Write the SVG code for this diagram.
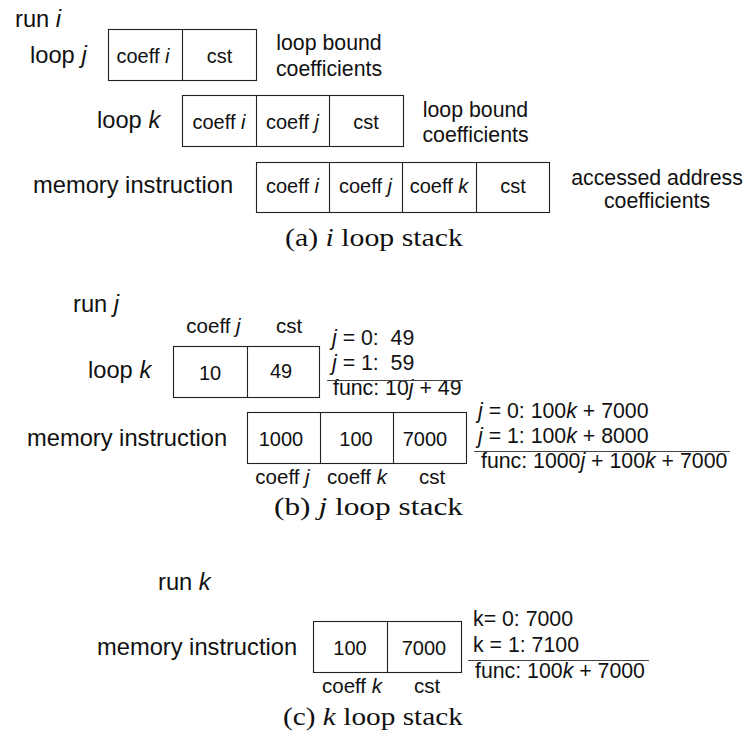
<svg xmlns="http://www.w3.org/2000/svg" width="743" height="735" viewBox="0 0 743 735">
<style>
.lbl{font-family:"Liberation Sans",Arial,sans-serif;font-size:23.7px;fill:#111}
.cell{font-family:"Liberation Sans",Arial,sans-serif;font-size:20px;fill:#111;text-anchor:middle}
.note{font-family:"Liberation Sans",Arial,sans-serif;font-size:21.3px;fill:#111}
.mid{text-anchor:middle}
.cap{font-family:"Liberation Serif","Times New Roman",serif;font-size:25px;fill:#111}
.box{fill:none;stroke:#222;stroke-width:1.1}
.rule{stroke:#444;stroke-width:1.1}
.it{font-style:italic}
</style>
<rect width="743" height="735" fill="#fff"/>

<!-- (a) -->
<g id="a-labels">
<text class="lbl" x="15" y="27">run <tspan class="it">i</tspan></text>
<text class="lbl" x="30" y="63">loop <tspan class="it">j</tspan></text>
<text class="lbl" x="97" y="128">loop <tspan class="it">k</tspan></text>
<text class="lbl" x="33" y="193">memory instruction</text>
</g>
<g id="a-loopj">
<rect class="box" x="108.5" y="29.5" width="148" height="51"/>
<line class="box" x1="182.5" y1="29.5" x2="182.5" y2="80.5"/>
<text class="cell" x="143" y="63">coeff <tspan class="it">i</tspan></text>
<text class="cell" x="219.5" y="63">cst</text>
<text class="note mid" x="329" y="50">loop bound</text>
<text class="note mid" x="329" y="76">coefficients</text>
</g>
<g id="a-loopk">
<rect class="box" x="182.5" y="95.5" width="221" height="51"/>
<line class="box" x1="256.5" y1="95.5" x2="256.5" y2="146.5"/>
<line class="box" x1="329.5" y1="95.5" x2="329.5" y2="146.5"/>
<text class="cell" x="219" y="129">coeff <tspan class="it">i</tspan></text>
<text class="cell" x="292.5" y="129">coeff <tspan class="it">j</tspan></text>
<text class="cell" x="366" y="129">cst</text>
<text class="note mid" x="475.5" y="117">loop bound</text>
<text class="note mid" x="475.5" y="142">coefficients</text>
</g>
<g id="a-mem">
<rect class="box" x="256.5" y="162.5" width="293" height="50"/>
<line class="box" x1="329.5" y1="162.5" x2="329.5" y2="212.5"/>
<line class="box" x1="402.5" y1="162.5" x2="402.5" y2="212.5"/>
<line class="box" x1="476.5" y1="162.5" x2="476.5" y2="212.5"/>
<text class="cell" x="292.5" y="193">coeff <tspan class="it">i</tspan></text>
<text class="cell" x="365.5" y="193">coeff <tspan class="it">j</tspan></text>
<text class="cell" x="439" y="193">coeff <tspan class="it">k</tspan></text>
<text class="cell" x="513" y="193">cst</text>
<text class="note mid" x="657" y="185">accessed address</text>
<text class="note mid" x="657" y="208">coefficients</text>
</g>
<text class="cap" x="285" y="246" textLength="178" lengthAdjust="spacingAndGlyphs">(a) <tspan class="it">i</tspan> loop stack</text>

<!-- (b) -->
<g id="b-labels">
<text class="lbl" x="73" y="312">run <tspan class="it">j</tspan></text>
<text class="lbl" x="88" y="378">loop <tspan class="it">k</tspan></text>
<text class="lbl" x="27" y="446">memory instruction</text>
</g>
<g id="b-loopk">
<text class="cell" x="213.5" y="333" style="font-size:20.5px">coeff <tspan class="it">j</tspan></text>
<text class="cell" x="289" y="333" style="font-size:20.5px">cst</text>
<rect class="box" x="173.5" y="346.5" width="146" height="51"/>
<line class="box" x1="247.5" y1="346.5" x2="247.5" y2="397.5"/>
<text class="cell" x="210" y="380">10</text>
<text class="cell" x="281" y="378">49</text>
<text class="note" x="332" y="345" xml:space="preserve"><tspan class="it">j</tspan> = 0:  49</text>
<text class="note" x="332" y="370" xml:space="preserve"><tspan class="it">j</tspan> = 1:  59</text>
<text class="note" x="333" y="395">func: 10<tspan class="it">j</tspan> + 49</text>
</g>
<g id="b-mem">
<rect class="box" x="247.5" y="412.5" width="219" height="51"/>
<line class="box" x1="320.5" y1="412.5" x2="320.5" y2="463.5"/>
<line class="box" x1="393.5" y1="412.5" x2="393.5" y2="463.5"/>
<text class="cell" x="281" y="446">1000</text>
<text class="cell" x="356" y="446">100</text>
<text class="cell" x="425" y="446">7000</text>
<text class="cell" x="282.5" y="484" style="font-size:20.5px">coeff <tspan class="it">j</tspan></text>
<text class="cell" x="357" y="484" style="font-size:20.5px">coeff <tspan class="it">k</tspan></text>
<text class="cell" x="432" y="484" style="font-size:20.5px">cst</text>
<text class="note" x="478" y="418"><tspan class="it">j</tspan> = 0: 100<tspan class="it">k</tspan> + 7000</text>
<text class="note" x="478" y="443"><tspan class="it">j</tspan> = 1: 100<tspan class="it">k</tspan> + 8000</text>
<text class="note" x="481" y="468">func: 1000<tspan class="it">j</tspan> + 100<tspan class="it">k</tspan> + 7000</text>
</g>
<text class="cap" x="274" y="515" textLength="189" lengthAdjust="spacingAndGlyphs">(b) <tspan class="it">j</tspan> loop stack</text>

<!-- (c) -->
<g id="c-labels">
<text class="lbl" x="158" y="590">run <tspan class="it">k</tspan></text>
<text class="lbl" x="97" y="655">memory instruction</text>
</g>
<g id="c-mem">
<rect class="box" x="313.5" y="621.5" width="148" height="51"/>
<line class="box" x1="387.5" y1="621.5" x2="387.5" y2="672.5"/>
<text class="cell" x="350" y="655">100</text>
<text class="cell" x="424" y="655">7000</text>
<text class="cell" x="352" y="693" style="font-size:20.5px">coeff <tspan class="it">k</tspan></text>
<text class="cell" x="427" y="693" style="font-size:20.5px">cst</text>
<text class="note" x="473" y="626">k= 0: 7000</text>
<text class="note" x="473" y="652">k = 1: 7100</text>
<text class="note" x="475" y="678">func: 100<tspan class="it">k</tspan> + 7000</text>
</g>
<text class="cap" x="283" y="725" textLength="180" lengthAdjust="spacingAndGlyphs">(c) <tspan class="it">k</tspan> loop stack</text>

<g id="connectors">
<line class="rule" x1="327" y1="380.5" x2="463" y2="380.5"/>
<line class="rule" x1="474" y1="451.5" x2="730" y2="451.5"/>
<line class="rule" x1="468" y1="660.5" x2="649" y2="660.5"/>
</g>
</svg>
